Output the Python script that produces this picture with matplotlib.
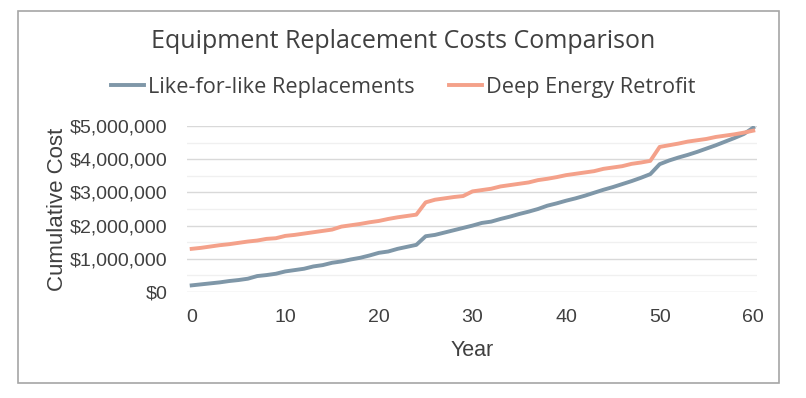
import matplotlib.pyplot as plt
import numpy as np
from matplotlib.ticker import FuncFormatter, MultipleLocator
from matplotlib.patches import Rectangle

# Data (cumulative cost)
years = list(range(61))
like_for_like = [0.20, 0.23, 0.26, 0.29, 0.33, 0.36, 0.40, 0.48, 0.51, 0.55,
                 0.62, 0.66, 0.70, 0.77, 0.81, 0.88, 0.92, 0.98, 1.03, 1.10,
                 1.18, 1.22, 1.30, 1.36, 1.42, 1.68, 1.72, 1.79, 1.86, 1.93,
                 2.00, 2.08, 2.12, 2.20, 2.27, 2.35, 2.42, 2.50, 2.60, 2.67,
                 2.75, 2.82, 2.90, 2.99, 3.08, 3.16, 3.25, 3.34, 3.44, 3.55,
                 3.85, 3.96, 4.05, 4.13, 4.22, 4.32, 4.42, 4.53, 4.64, 4.76,
                 4.95]
deep_retrofit = [1.30, 1.33, 1.37, 1.41, 1.44, 1.48, 1.52, 1.55, 1.60, 1.62,
                 1.69, 1.72, 1.76, 1.80, 1.84, 1.88, 1.97, 2.01, 2.05, 2.10,
                 2.14, 2.20, 2.25, 2.29, 2.33, 2.70, 2.78, 2.82, 2.86, 2.89,
                 3.03, 3.07, 3.11, 3.18, 3.22, 3.26, 3.30, 3.37, 3.41, 3.46,
                 3.52, 3.56, 3.60, 3.64, 3.71, 3.75, 3.79, 3.86, 3.90, 3.95,
                 4.37, 4.42, 4.47, 4.53, 4.57, 4.61, 4.67, 4.71, 4.75, 4.80,
                 4.86]
like_for_like = np.array(like_for_like) * 1e6
deep_retrofit = np.array(deep_retrofit) * 1e6

blue = '#7f97a8'
orange = '#f4a18a'
text_col = '#404040'
W, H = 806, 398

fig = plt.figure(figsize=(8.06, 3.98), dpi=100)
ax = fig.add_axes([187 / W, 1 - 292 / H, 570 / W, 166 / H])

# outer chart border
fig.patches.append(Rectangle((18 / W, 1 - 383 / H), 761 / W, 372 / H,
                             transform=fig.transFigure, fill=False,
                             edgecolor='#a6a6a6', linewidth=1.2))

ax.plot(years, like_for_like, color=blue, linewidth=2.8, label='Like-for-like Replacements')
ax.plot(years, deep_retrofit, color=orange, linewidth=2.8, label='Deep Energy Retrofit')

ax.set_xlim(-0.5, 60.4)
ax.set_ylim(0, 5e6)
ax.xaxis.set_major_locator(MultipleLocator(10))
ax.yaxis.set_major_locator(MultipleLocator(1e6))
ax.yaxis.set_minor_locator(MultipleLocator(5e5))
ax.yaxis.set_major_formatter(FuncFormatter(lambda v, p: '${:,.0f}'.format(v)))

ax.grid(axis='y', which='major', color='#d9d9d9', linewidth=1)
ax.grid(axis='y', which='minor', color='#f0f0f0', linewidth=1)
ax.set_axisbelow(True)
for s in ax.spines.values():
    s.set_visible(False)
ax.tick_params(which='both', length=0)
ax.tick_params(axis='y', labelsize=14, labelcolor=text_col, pad=14)
ax.tick_params(axis='x', labelsize=14, labelcolor=text_col, pad=12)
for lab in ax.get_xticklabels() + ax.get_yticklabels():
    lab.set_family('Liberation Sans')

ax.set_xlabel('Year', fontsize=15.5, color=text_col, family='Liberation Sans', labelpad=10)
ax.set_ylabel('Cumulative Cost', fontsize=16, color=text_col, family='Liberation Sans', labelpad=1)

fig.text(0.5, 1 - 41 / H, 'Equipment Replacement Costs Comparison', ha='center', va='center',
         fontsize=18, color=text_col, family='Open Sans')
leg = fig.legend(loc='center', bbox_to_anchor=(0.5, 1 - 87 / H), ncol=2, frameon=False,
                 handlelength=1.55, handletextpad=0.15, columnspacing=1.6,
                 prop={'family': 'Open Sans', 'size': 15.6})
for t in leg.get_texts():
    t.set_color(text_col)

fig.savefig('out.png', dpi=100)
